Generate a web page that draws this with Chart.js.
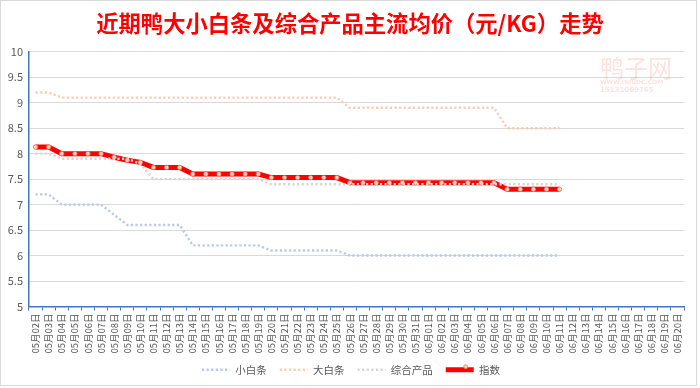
<!DOCTYPE html>
<html>
<head>
<meta charset="utf-8">
<script src="https://cdn.jsdelivr.net/npm/chart.js@4/dist/chart.umd.min.js"></script>
<style>
  html, body { margin: 0; padding: 0; background: #fff; }
  #wrap { width: 700px; height: 388px; }
</style>
</head>
<body>
<div id="wrap"><canvas id="chart" width="700" height="388"></canvas></div>
<script>
const dates = [
  "05月02日","05月03日","05月04日","05月05日","05月06日","05月07日","05月08日","05月09日","05月10日","05月11日",
  "05月12日","05月13日","05月14日","05月15日","05月16日","05月17日","05月18日","05月19日","05月20日","05月21日",
  "05月22日","05月23日","05月24日","05月25日","05月26日","05月27日","05月28日","05月29日","05月30日","05月31日",
  "06月01日","06月02日","06月03日","06月04日","06月05日","06月06日","06月07日","06月08日","06月09日","06月10日",
  "06月11日","06月12日","06月13日","06月14日","06月15日","06月16日","06月17日","06月18日","06月19日","06月20日"
];

const xiaoBaitiao = [7.2,7.2,7.0,7.0,7.0,7.0,6.8,6.6,6.6,6.6,6.6,6.6,6.2,6.2,6.2,6.2,6.2,6.2,6.1,6.1,
  6.1,6.1,6.1,6.1,6.0,6.0,6.0,6.0,6.0,6.0,6.0,6.0,6.0,6.0,6.0,6.0,6.0,6.0,6.0,6.0,6.0];
const daBaitiao = [9.2,9.2,9.1,9.1,9.1,9.1,9.1,9.1,9.1,9.1,9.1,9.1,9.1,9.1,9.1,9.1,9.1,9.1,9.1,9.1,
  9.1,9.1,9.1,9.1,8.9,8.9,8.9,8.9,8.9,8.9,8.9,8.9,8.9,8.9,8.9,8.9,8.5,8.5,8.5,8.5,8.5];
const zongheChanpin = [8.0,8.0,7.9,7.9,7.9,7.9,7.9,7.9,7.8,7.5,7.5,7.5,7.5,7.5,7.5,7.5,7.5,7.5,7.4,7.4,
  7.4,7.4,7.4,7.4,7.4,7.4,7.4,7.4,7.4,7.4,7.4,7.4,7.4,7.4,7.4,7.4,7.4,7.4,7.4,7.4,7.4];
const zhishu = [8.13,8.13,8.0,8.0,8.0,8.0,7.93,7.87,7.83,7.73,7.73,7.73,7.6,7.6,7.6,7.6,7.6,7.6,7.53,7.53,
  7.53,7.53,7.53,7.53,7.43,7.43,7.43,7.43,7.43,7.43,7.43,7.43,7.43,7.43,7.43,7.43,7.3,7.3,7.3,7.3,7.3];

const FONT = "'Noto Sans CJK SC', 'Noto Sans', sans-serif";

// white background + outer frame + watermark + small position nudges
const framePlugin = {
  id: "frame",
  afterLayout(chart) {
    const lg = chart.legend;
    if (lg) {
      lg.top -= 3; lg.bottom -= 3;
      lg.left += 7; lg.right += 7;
      if (lg.legendHitBoxes) lg.legendHitBoxes.forEach(b => { b.top -= 3; b.left += 7; });
    }
    const tb = chart.titleBlock;
    if (tb) { tb.left += 6; tb.right += 6; }
  },
  beforeDraw(chart) {
    const ctx = chart.ctx;
    ctx.save();
    ctx.fillStyle = "#fff";
    ctx.fillRect(0, 0, chart.width, chart.height);
    ctx.strokeStyle = "#d9d9d9";
    ctx.lineWidth = 1;
    ctx.strokeRect(0.5, 0.5, 696, 385);
    ctx.restore();
  },
  beforeDatasetsDraw(chart) {
    const ctx = chart.ctx;
    ctx.save();
    ctx.globalAlpha = 0.22;
    ctx.fillStyle = "#f07868";
    ctx.font = "24px " + FONT;
    ctx.textBaseline = "middle";
    ctx.fillText("鸭子网", 600, 68);
    ctx.font = "bold 6px 'DejaVu Sans'";
    ctx.fillText("WWW.INIUDC.COM", 600, 82);
    ctx.font = "bold 7px 'DejaVu Sans'";
    ctx.fillText("15131069765", 600, 90);
    ctx.restore();
  },
  afterDraw(chart) {
    // marker in the middle of the 指数 legend sample
    const legend = chart.legend;
    if (!legend || !legend.legendHitBoxes) return;
    const box = legend.legendHitBoxes[3];
    if (!box) return;
    const ctx = chart.ctx;
    ctx.save();
    ctx.beginPath();
    ctx.arc(box.left + 20, box.top + box.height / 2, 2, 0, Math.PI * 2);
    ctx.fillStyle = "#fbd3c4";
    ctx.fill();
    ctx.strokeStyle = "#ff6a5a";
    ctx.lineWidth = 0.8;
    ctx.stroke();
    ctx.restore();
  }
};

const dotted = (label, data, color) => ({
  label,
  data,
  borderColor: color,
  backgroundColor: color,
  borderWidth: 2.4,
  borderDash: [2.2, 2.4],
  pointRadius: 0,
  tension: 0,
  fill: false
});

new Chart(document.getElementById("chart"), {
  type: "line",
  data: {
    labels: dates,
    datasets: [
      dotted("小白条", xiaoBaitiao, "#b7c9ea"),
      dotted("大白条", daBaitiao, "#f8cdb2"),
      dotted("综合产品", zongheChanpin, "#d6d6d6"),
      {
        label: "指数",
        data: zhishu,
        borderColor: "#ff0000",
        backgroundColor: "#ff0000",
        borderWidth: 5,
        pointRadius: 2.2,
        pointBackgroundColor: "#fbd3c4",
        pointBorderColor: "#ff6a5a",
        pointBorderWidth: 0.8,
        tension: 0,
        fill: false
      }
    ]
  },
  options: {
    responsive: false,
    animation: false,
    layout: { padding: { left: 4, right: 16, top: 0, bottom: 0 } },
    plugins: {
      title: {
        display: true,
        text: "近期鸭大小白条及综合产品主流均价（元/KG）走势",
        color: "#ff0000",
        font: { family: FONT, size: 22.3, weight: "bold" },
        padding: { top: 10, bottom: 15 }
      },
      legend: {
        position: "bottom",
        labels: {
          color: "#595959",
          font: { family: FONT, size: 10.5 },
          usePointStyle: true,
          pointStyle: "line",
          pointStyleWidth: 28,
          boxWidth: 28,
          boxHeight: 10.5,
          padding: 13,
          generateLabels(chart) {
            return chart.data.datasets.map((ds, i) => ({
              text: ds.label,
              fillStyle: ds.borderColor,
              strokeStyle: ds.borderColor,
              lineWidth: ds.borderWidth,
              lineDash: ds.borderDash || [],
              pointStyle: "line",
              fontColor: "#595959",
              datasetIndex: i,
              hidden: false
            }));
          }
        }
      },
      tooltip: { enabled: false }
    },
    scales: {
      x: {
        offset: true,
        grid: { display: true, offset: true, drawOnChartArea: false, color: "#4472c4", tickLength: 4 },
        border: { color: "#4472c4", width: 1.5 },
        ticks: {
          autoSkip: false,
          minRotation: 90,
          maxRotation: 90,
          color: "#595959",
          padding: 3,
          font: { family: FONT, size: 9.5 }
        },
        afterFit(scale) { scale.height = 48; }
      },
      y: {
        min: 5,
        max: 10,
        grid: { color: "#d9d9d9", lineWidth: 1, drawTicks: false },
        border: { color: "#4472c4", width: 1.5 },
        ticks: {
          stepSize: 0.5,
          color: "#595959",
          padding: 6,
          font: { family: FONT, size: 11 },
          callback: v => String(Math.round(v * 10) / 10)
        },
        afterFit(scale) { scale.width = 25; }
      }
    }
  },
  plugins: [framePlugin]
});
</script>
</body>
</html>
